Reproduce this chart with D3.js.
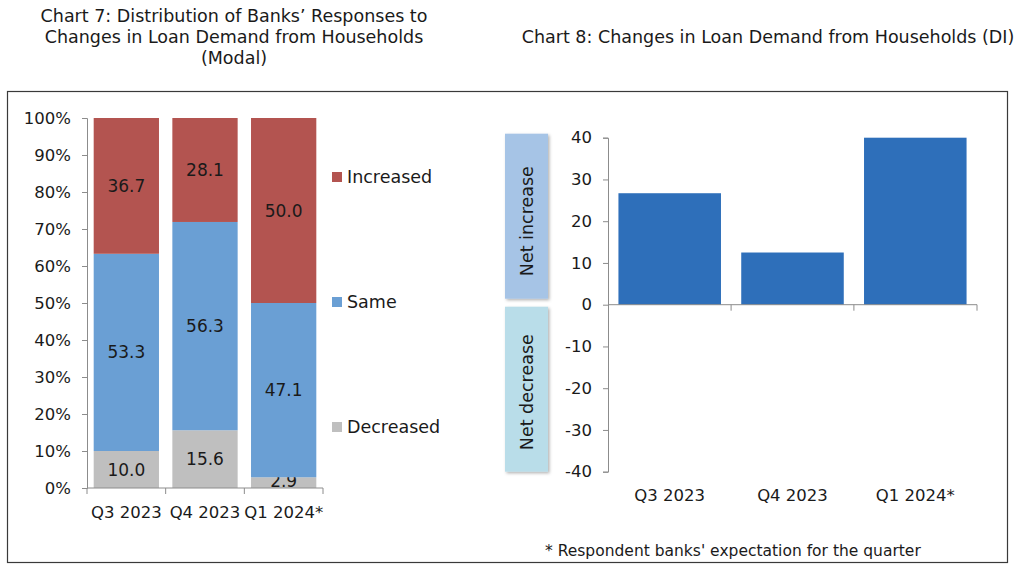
<!DOCTYPE html>
<html>
<head>
<meta charset="utf-8">
<script src="https://cdn.jsdelivr.net/npm/d3@7"></script>
<style>
  body { margin: 0; background: #fff; }
  svg { font-family: "DejaVu Sans", sans-serif; }
</style>
</head>
<body>
<div id="chart"></div>
<script>
// data
const quarters = ['Q3 2023', 'Q4 2023', 'Q1 2024*'];
const decreased = [10.0, 15.6, 2.9];
const same = [53.3, 56.3, 47.1];
const increased = [36.7, 28.1, 50.0];
const seriesNames = ['Decreased', 'Same', 'Increased'];
const diValues = [26.7, 12.5, 40.0];
const pctTicks = [0, 10, 20, 30, 40, 50, 60, 70, 80, 90, 100];
const diTicks = [-40, -30, -20, -10, 0, 10, 20, 30, 40];

const WIDTH = 1024;
const HEIGHT = 569;
const colours = { Decreased: '#bfbfbf', Same: '#6a9fd4', Increased: '#b35450' };
const axisGrey = '#8c8c8c';
const textCol = '#1a1a1a';

let svg = d3.select('#chart')
  .append('svg')
  .attr('width', WIDTH)
  .attr('height', HEIGHT);

// outer frame
svg.append('rect')
  .attr('x', 7.5).attr('y', 91.5)
  .attr('width', 1000).attr('height', 471)
  .attr('fill', 'none')
  .attr('stroke', '#3a3a3a')
  .attr('stroke-width', 1.2);

// titles
const title7 = ['Chart 7: Distribution of Banks’ Responses to', 'Changes in Loan Demand from Households', '(Modal)'];
svg.append('g').selectAll('text')
  .data(title7).enter()
  .append('text')
  .attr('x', 234)
  .attr('y', (d, i) => 22 + i * 21)
  .attr('text-anchor', 'middle')
  .attr('font-size', 17.5)
  .attr('fill', textCol)
  .text(d => d);

svg.append('text')
  .attr('x', 768).attr('y', 43)
  .attr('text-anchor', 'middle')
  .attr('font-size', 17.5)
  .attr('fill', textCol)
  .text('Chart 8: Changes in Loan Demand from Households (DI)');

// ---------- Chart 7: stacked 100% bars ----------
const x7 = d3.scaleBand().domain(quarters).range([87, 323]).paddingInner(0.17).paddingOuter(0.085);
const y7 = d3.scaleLinear().domain([0, 100]).range([488, 118]);

let rows = quarters.map((q, i) => ({ q: q, Decreased: decreased[i], Same: same[i], Increased: increased[i] }));
let stack = d3.stack().keys(seriesNames)(rows);

let g7 = svg.append('g');
stack.forEach(layer => {
  g7.append('g').selectAll('rect')
    .data(layer).enter()
    .append('rect')
    .attr('x', d => x7(d.data.q))
    .attr('width', x7.bandwidth())
    .attr('y', d => y7(d[1]))
    .attr('height', d => y7(d[0]) - y7(d[1]))
    .attr('fill', colours[layer.key]);

  g7.append('g').selectAll('text')
    .data(layer).enter()
    .append('text')
    .attr('x', d => x7(d.data.q) + x7.bandwidth() / 2)
    .attr('y', d => {
      let mid = (d[0] + d[1]) / 2;
      return (d[1] - d[0] < 5 ? y7(d[0]) - 1 : y7(mid) + 6);
    })
    .attr('text-anchor', 'middle')
    .attr('font-size', 17)
    .attr('fill', textCol)
    .text(d => (d[1] - d[0]).toFixed(1));
});

let yAxis7 = svg.append('g')
  .attr('transform', 'translate(87,0)')
  .call(d3.axisLeft(y7).tickValues(pctTicks).tickFormat(d => d + '%').tickSize(5).tickPadding(11));
yAxis7.select('.domain').attr('stroke', axisGrey);
yAxis7.selectAll('line').attr('stroke', axisGrey);
yAxis7.selectAll('text').attr('font-size', 16.5).attr('fill', textCol).attr('font-family', '"DejaVu Sans", sans-serif');

// x axis with ticks between categories
let xLine7 = svg.append('g');
xLine7.append('line')
  .attr('x1', 87).attr('x2', 323)
  .attr('y1', 488).attr('y2', 488)
  .attr('stroke', axisGrey);
xLine7.selectAll('.sep')
  .data(quarters.concat(['end'])).enter()
  .append('line')
  .attr('x1', (d, i) => i < quarters.length ? x7(d) - x7.step() * x7.paddingInner() / 2 : 323)
  .attr('x2', (d, i) => i < quarters.length ? x7(d) - x7.step() * x7.paddingInner() / 2 : 323)
  .attr('y1', 488).attr('y2', 494)
  .attr('stroke', axisGrey);
xLine7.selectAll('text')
  .data(quarters).enter()
  .append('text')
  .attr('x', d => x7(d) + x7.bandwidth() / 2)
  .attr('y', 518)
  .attr('text-anchor', 'middle')
  .attr('font-size', 16.5)
  .attr('fill', textCol)
  .text(d => d);

// legend
const legendY = { Increased: 177, Same: 302, Decreased: 427 };
let leg = svg.append('g');
leg.selectAll('rect')
  .data(seriesNames).enter()
  .append('rect')
  .attr('x', 332).attr('y', d => legendY[d] - 5)
  .attr('width', 10).attr('height', 10)
  .attr('fill', d => colours[d]);
leg.selectAll('text')
  .data(seriesNames).enter()
  .append('text')
  .attr('x', 347).attr('y', d => legendY[d] + 6)
  .attr('font-size', 17.5)
  .attr('fill', textCol)
  .text(d => d);

// ---------- Chart 8: DI bars ----------
const x8 = d3.scaleBand().domain(quarters).range([608, 977]).paddingInner(0.165).paddingOuter(0.085);
const y8 = d3.scaleLinear().domain([-40, 40]).range([471.7, 137.7]);

// side boxes
const sideBoxes = [
  { label: 'Net increase', y0: 40, y1: 0, fill: '#a6c4e6' },
  { label: 'Net decrease', y0: 0, y1: -40, fill: '#b9dde9' }
];
let defs = svg.append('defs');
let filt = defs.append('filter').attr('id', 'shadow').attr('x', '-20%').attr('y', '-10%').attr('width', '150%').attr('height', '130%');
filt.append('feDropShadow').attr('dx', 1.5).attr('dy', 1.5).attr('stdDeviation', 1.5).attr('flood-color', '#000').attr('flood-opacity', 0.3);

let sb = svg.append('g');
sb.selectAll('rect')
  .data(sideBoxes).enter()
  .append('rect')
  .attr('x', 505).attr('width', 43)
  .attr('y', (d, i) => y8(d.y0) - 4 + i * 6)
  .attr('height', d => y8(d.y1) - y8(d.y0) - 2)
  .attr('fill', d => d.fill)
  .attr('filter', 'url(#shadow)');
sb.selectAll('text')
  .data(sideBoxes).enter()
  .append('text')
  .attr('transform', (d, i) => `translate(533,${(y8(d.y0) + y8(d.y1)) / 2 + i * 4}) rotate(-90)`)
  .attr('text-anchor', 'middle')
  .attr('font-size', 17.5)
  .attr('fill', textCol)
  .text(d => d.label);

svg.append('g').selectAll('rect')
  .data(diValues).enter()
  .append('rect')
  .attr('x', (d, i) => x8(quarters[i]))
  .attr('width', x8.bandwidth())
  .attr('y', d => y8(Math.max(0, d)))
  .attr('height', d => Math.abs(y8(d) - y8(0)))
  .attr('fill', '#2e6fba');

let yAxis8 = svg.append('g')
  .attr('transform', 'translate(608,0)')
  .call(d3.axisLeft(y8).tickValues(diTicks).tickFormat(d => String(d)).tickSize(5).tickPadding(11));
yAxis8.select('.domain').attr('stroke', axisGrey);
yAxis8.selectAll('line').attr('stroke', axisGrey);
yAxis8.selectAll('text').attr('font-size', 16.5).attr('fill', textCol).attr('font-family', '"DejaVu Sans", sans-serif');

let xLine8 = svg.append('g');
xLine8.append('line')
  .attr('x1', 608).attr('x2', 977)
  .attr('y1', y8(0)).attr('y2', y8(0))
  .attr('stroke', axisGrey);
xLine8.selectAll('.sep')
  .data(quarters.slice(1).concat(['end'])).enter()
  .append('line')
  .attr('x1', d => d === 'end' ? 977 : x8(d) - x8.step() * x8.paddingInner() / 2)
  .attr('x2', d => d === 'end' ? 977 : x8(d) - x8.step() * x8.paddingInner() / 2)
  .attr('y1', y8(0)).attr('y2', y8(0) + 6)
  .attr('stroke', axisGrey);
xLine8.selectAll('text')
  .data(quarters).enter()
  .append('text')
  .attr('x', d => x8(d) + x8.bandwidth() / 2)
  .attr('y', 501)
  .attr('text-anchor', 'middle')
  .attr('font-size', 16.5)
  .attr('fill', textCol)
  .text(d => d);

// footnote
svg.append('text')
  .attr('x', 545).attr('y', 556)
  .attr('font-size', 15.5)
  .attr('fill', textCol)
  .text("* Respondent banks' expectation for the quarter");
</script>
</body>
</html>
